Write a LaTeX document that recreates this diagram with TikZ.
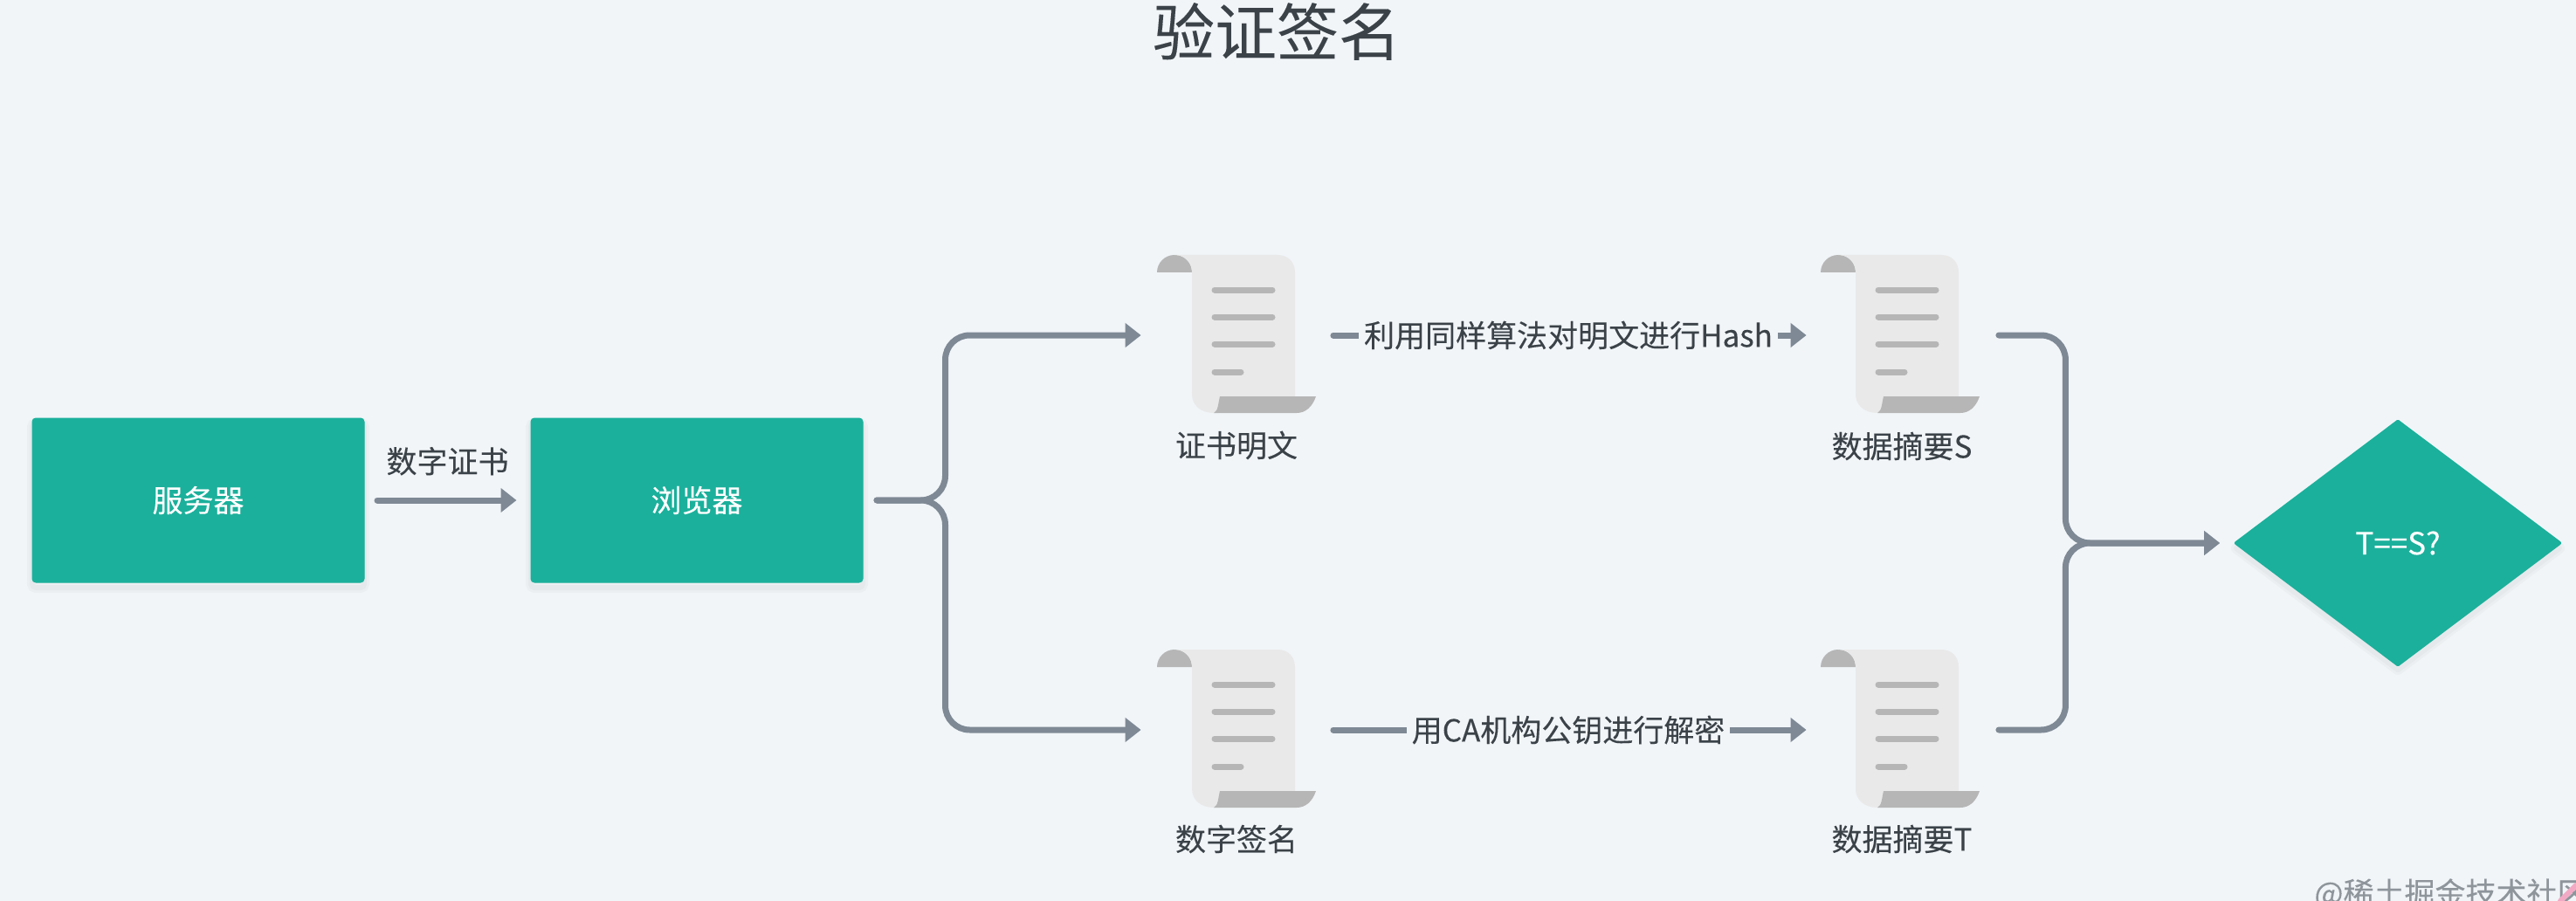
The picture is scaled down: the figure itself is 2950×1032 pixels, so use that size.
\documentclass[tikz,border=0pt]{standalone}
\usepackage{fontspec}
\setmainfont{Noto Sans CJK SC}[FakeBold=0.12]
\usetikzlibrary{arrows.meta,shapes.geometric}
\definecolor{bgc}{HTML}{F1F5F8}
\definecolor{teal}{HTML}{1BB09B}
\definecolor{flowc}{HTML}{7E8995}
\definecolor{inkc}{HTML}{3B4349}
\definecolor{markc}{HTML}{8E959B}
\definecolor{pinkc}{HTML}{F2A9C4}
\definecolor{docbody}{HTML}{E9E9E9}
\definecolor{docdark}{HTML}{B6B6B6}
\tikzset{
  x=0.5pt,y=-0.5pt,
  softshadow/.style={preaction={draw=black,draw opacity=.025,line width=6pt,transform canvas={yshift=-3pt}},
                     preaction={draw=black,draw opacity=.025,line width=3pt,transform canvas={yshift=-3pt}}},
  procbox/.style={rectangle,fill=teal,draw=teal,line width=.5pt,rounded corners=2pt,minimum width=190pt,minimum height=94pt,inner sep=0,text=white,font=\fontsize{17.5}{21}\selectfont,softshadow},
  decision/.style={diamond,fill=teal,draw=teal,line width=2pt,line join=round,minimum width=186pt,minimum height=140pt,inner sep=0,text=white,font=\fontsize{17.5}{21}\selectfont,softshadow},
  docspot/.style={rectangle,inner sep=0,minimum width=91pt,minimum height=90.5pt},
  caption/.style={text=inkc,inner sep=0,font=\fontsize{17.5}{21}\selectfont},
  edgelabel/.style={caption,fill=bgc,inner xsep=3pt,inner ysep=1pt},
  flow/.style={draw=flowc,line width=3.5pt,line cap=round,-{Triangle[length=9pt,width=13.5pt]}},
  docline/.style={draw=docdark,line width=3.5pt,line cap=round},
  docicon/.pic={
    \fill[docdark] (-40,20) arc[start angle=180,end angle=0,radius=10pt] -- cycle;
    \fill[docbody] (-20,0) -- (98,0) .. controls (110,0) and (118,8) .. (118,20) -- (118,165) -- (30,181) -- (25,181) .. controls (10,181) and (0,172) .. (0,160) -- (0,20) .. controls (0,8) and (-8,0) .. (-20,0) -- cycle;
    \fill[docdark] (32,162) -- (142,162) .. controls (138,174) and (130,181) .. (120,181) -- (25,181) .. controls (30,179) and (30,170) .. (32,162) -- cycle;
    \draw[docline] (26,40) -- (92,40);
    \draw[docline] (26,71) -- (92,71);
    \draw[docline] (26,102) -- (92,102);
    \draw[docline] (26,134) -- (56,134);
  },
}
\begin{document}
\begin{tikzpicture}
\useasboundingbox (0,0) rectangle (2950,1032);
\clip (0,0) rectangle (2950,1032);
\fill[bgc] (0,0) rectangle (2950,1032);

\node[text=inkc,inner sep=0,font=\fontsize{35.5}{42}\selectfont] (title) at (1462,36) {验证签名};

\node[procbox] (server) at (227,573) {服务器};
\node[procbox] (browser) at (798,573) {浏览器};
\node[decision] (check) at (2746,622) {T==S?};

\node[docspot] (plain) at (1416,384) {};
\node[docspot] (sign) at (1416,836) {};
\node[docspot] (digs) at (2176,384) {};
\node[docspot] (digt) at (2176,836) {};
\pic at (1365,292) {docicon};
\pic at (1365,744) {docicon};
\pic at (2125,292) {docicon};
\pic at (2125,744) {docicon};

\node[caption] (lplain) at (1416,510) {证书明文};
\node[caption] (lsign) at (1416,961) {数字签名};
\node[caption] (ldigs) at (2178,511) {数据摘要S};
\node[caption] (ldigt) at (2178,961) {数据摘要T};

\draw[flow,shorten <=7.25pt,shorten >=8pt] (server.east) -- node[caption,above=12.5pt,pos=.5] (lcert) {数字证书} (browser.west);

\draw[flow,rounded corners=14pt,shorten <=7.75pt,shorten >=9pt] (browser.east) -- ++(94,0) |- (plain.west);
\draw[flow,rounded corners=14pt,shorten <=7.75pt,shorten >=9pt] (browser.east) -- ++(94,0) |- (sign.west);

\draw[flow,shorten <=9.75pt,shorten >=8pt] (plain.east) -- node[edgelabel] (lhash) {利用同样算法对明文进行Hash} (digs.west);
\draw[flow,shorten <=9.75pt,shorten >=8pt] (sign.east) -- node[edgelabel] (ldec) {用CA机构公钥进行解密} (digt.west);

\draw[flow,rounded corners=14pt,shorten <=10.75pt,shorten >=8pt] (digs.east) -- ++(98,0) |- (check.west);
\draw[flow,rounded corners=14pt,shorten <=10.75pt,shorten >=8pt] (digt.east) -- ++(98,0) |- (check.west);

\node[anchor=base west,text=markc,inner sep=0,font=\fontsize{17.5}{21}\selectfont] (mark) at (2650,1036) {@稀土掘金技术社区};
\draw[pinkc,line width=3pt,line cap=round] (2932,1032) -- (2950,1014);
\end{tikzpicture}
\end{document}
